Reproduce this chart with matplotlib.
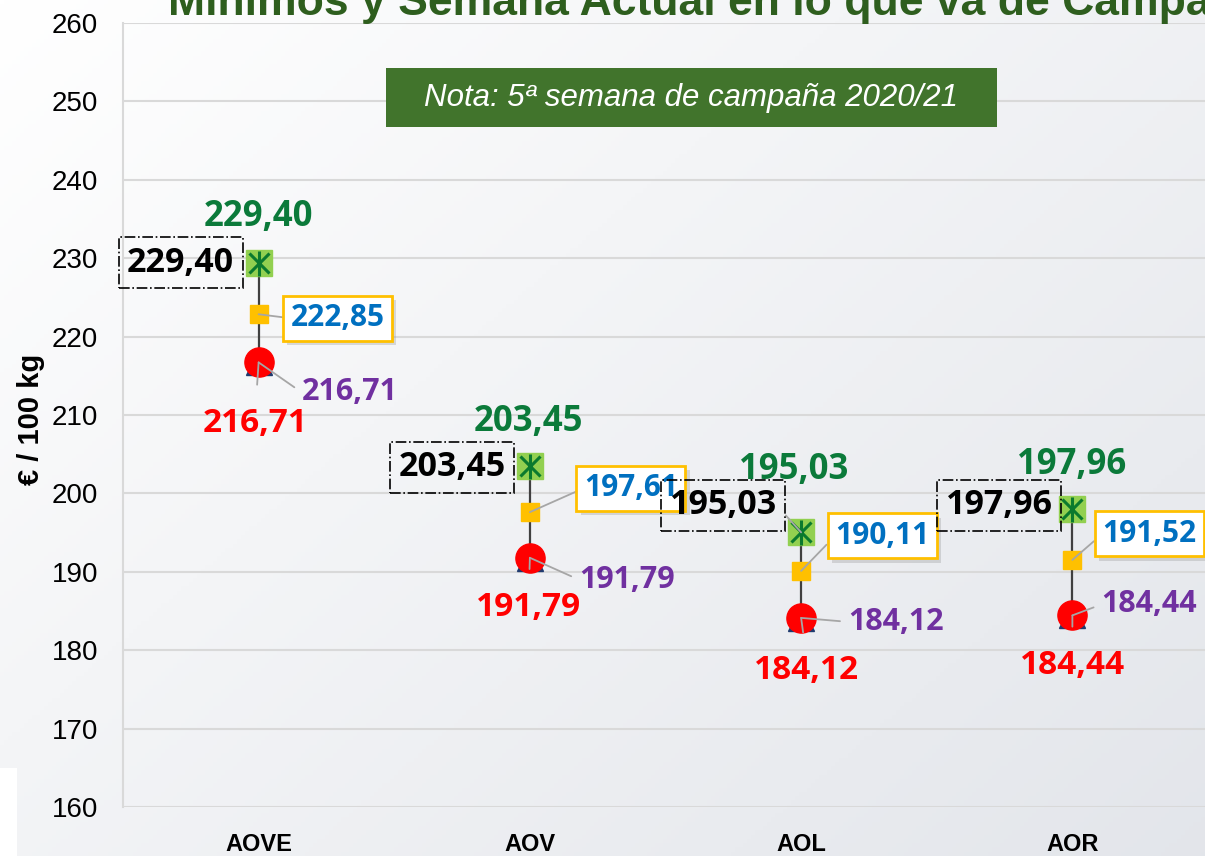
import numpy as np
import matplotlib.pyplot as plt
import matplotlib.patheffects as pe
from matplotlib.patches import Rectangle

categorias = ["AOVE", "AOV", "AOL", "AOR"]
maximos = [229.40, 203.45, 195.03, 197.96]
semana_actual = [222.85, 197.61, 190.11, 191.52]
minimos = [216.71, 191.79, 184.12, 184.44]
y_ticks = [160, 170, 180, 190, 200, 210, 220, 230, 240, 250, 260]

titulo = "Mínimos y Semana Actual en lo que va de Campaña"
nota = "Nota: 5ª semana de campaña 2020/21"

# desplazamientos de las etiquetas en pixeles (x, y hacia arriba)
off_verde = [(0, 46), (-1, 44), (-7, 62), (-1, 44)]
off_negro = [(-78, 0), (-78, -1), (-78, 27), (-73, 4)]
off_azul = [(79, -4), (101, 24), (81, 35), (77, 26)]
off_morado = [(91, -30), (97, -22), (95, -4), (77, 11)]
off_rojo = [(-3, -61), (-1, -50), (5, -53), (0, -50)]


def fmt(v):
    return f"{v:.2f}".replace(".", ",")


plt.rcParams['font.family'] = ['Liberation Sans', 'DejaVu Sans']

W, H = 1205, 856
fig = plt.figure(figsize=(W / 100, H / 100), dpi=100)

# fondo degradado
bg = fig.add_axes([0, 0, 1, 1], zorder=-10)
gx = np.linspace(0, 1, 300)
gy = np.linspace(0, 1, 200)
GX, GY = np.meshgrid(gx, gy)
t = np.clip(0.55 * GX + 0.45 * GY, 0, 1)
c0 = np.array([1.0, 1.0, 1.0])
c1 = np.array([0.89, 0.90, 0.92])
img = c0[None, None, :] * (1 - t[..., None]) + c1[None, None, :] * t[..., None]
bg.imshow(img, extent=[0, 1, 0, 1], aspect='auto', origin='upper')
bg.axis('off')

ax = fig.add_axes([123 / W, 49 / H, 1085 / W, 784 / H])
ax.set_facecolor('none')
x = np.arange(len(categorias))
ax.set_xlim(-0.5, len(categorias) - 0.5)
ax.set_ylim(160, 260)
ax.set_yticks(y_ticks)
ax.grid(axis='y', color='#d9d9d9', lw=1.5, zorder=0)
ax.set_axisbelow(True)
for s in ['top', 'right', 'bottom']:
    ax.spines[s].set_visible(False)
ax.spines['left'].set_color('#d9d9d9')
ax.spines['left'].set_linewidth(1.5)
ax.tick_params(axis='both', length=0)
ax.tick_params(axis='y', labelsize=20, pad=18)
ax.set_xticks(x)
ax.set_xticklabels(categorias, fontsize=17, fontweight='bold')
ax.tick_params(axis='x', pad=19)
ax.set_ylabel("€ / 100 kg", fontsize=21, fontweight='bold')
ax.yaxis.set_label_coords(-0.072, 0.494)

# lineas max-min
ax.vlines(x, minimos, maximos, color='#404040', lw=1.6, zorder=2)

# marcadores
ax.plot(x, minimos, ls='none', marker='^', ms=19, color='#1f3a6e', zorder=3)
ax.plot(x, minimos, ls='none', marker='o', ms=21, color='#ff0000', zorder=4)
ax.plot(x, semana_actual, ls='none', marker='s', ms=13, color='#ffc000', zorder=4)
ax.plot(x, maximos, ls='none', marker='s', ms=19, color='#92d050', zorder=4)
ax.plot(x, maximos, ls='none', marker='x', ms=14, mew=2.2, color='#0b7a2e', zorder=5)
ax.plot(x, maximos, ls='none', marker='|', ms=18, mew=2.2, color='#0b7a2e', zorder=5)

lider = dict(arrowstyle='-', color='#a6a6a6', lw=1.3, shrinkA=0, shrinkB=0)
fuente = ['Open Sans', 'DejaVu Sans']

for i in range(len(categorias)):
    # etiqueta verde encima del maximo
    ax.annotate(fmt(maximos[i]), (x[i], maximos[i]), xytext=off_verde[i],
                textcoords='offset pixels', ha='center', va='center',
                fontsize=25, fontweight='bold', color='#0b7a3a', family=fuente, zorder=6)
    # etiqueta negra con recuadro punto-raya
    ax.annotate(fmt(maximos[i]), (x[i], maximos[i]), xytext=off_negro[i],
                textcoords='offset pixels', ha='center', va='center',
                fontsize=24.5, fontweight='bold', color='black', family=fuente, zorder=6,
                bbox=dict(boxstyle='square,pad=0.25', fc='none', ec='black', lw=1.2, ls='-.'),
                arrowprops=dict(lider, relpos=(1, 0.5)) if off_negro[i][1] > 10 else None)
    # etiqueta azul de la semana actual
    ta = ax.annotate(fmt(semana_actual[i]), (x[i], semana_actual[i]), xytext=off_azul[i],
                     textcoords='offset pixels', ha='center', va='center',
                     fontsize=21.5, fontweight='bold', color='#0070c0', family=fuente, zorder=6,
                     bbox=dict(boxstyle='square,pad=0.25', fc='white', ec='#ffc000', lw=2),
                     arrowprops=dict(lider, relpos=(0, 0.5)))
    ta.get_bbox_patch().set_path_effects([
        pe.SimplePatchShadow(offset=(3, -3), shadow_rgbFace='#909090', alpha=0.3),
        pe.Normal()])
    # etiqueta morada del minimo
    ax.annotate(fmt(minimos[i]), (x[i], minimos[i]), xytext=off_morado[i],
                textcoords='offset pixels', ha='center', va='center',
                fontsize=22, fontweight='bold', color='#7030a0', family=fuente, zorder=6,
                arrowprops=dict(lider, relpos=(0, 0.5), shrinkA=4))
    # etiqueta roja debajo del minimo
    ax.annotate(fmt(minimos[i]), (x[i], minimos[i]), xytext=off_rojo[i],
                textcoords='offset pixels', ha='center', va='center',
                fontsize=24, fontweight='bold', color='#ff0000', family=fuente, zorder=6,
                arrowprops=dict(lider, relpos=(0.5, 1), shrinkA=14))

# nota
fig.patches.append(Rectangle((386 / W, 729 / H), 611 / W, 59 / H, transform=fig.transFigure,
                             fc='#41742c', ec='none', zorder=3))
fig.text(691 / W, (H - 98) / H, nota, ha='center', va='center', fontsize=22.5,
         style='italic', color='white', zorder=4)

# titulo cortado arriba
fig.text(168 / W, 841 / H, titulo, ha='left', va='baseline', fontsize=32,
         fontweight='bold', color='#2e5e1e')

# resto del logo abajo a la izquierda
fig.patches.append(Rectangle((0, 0), 17 / W, 88 / H, transform=fig.transFigure,
                             fc='white', ec='none', zorder=1))

fig.savefig("out.png", dpi=100)
